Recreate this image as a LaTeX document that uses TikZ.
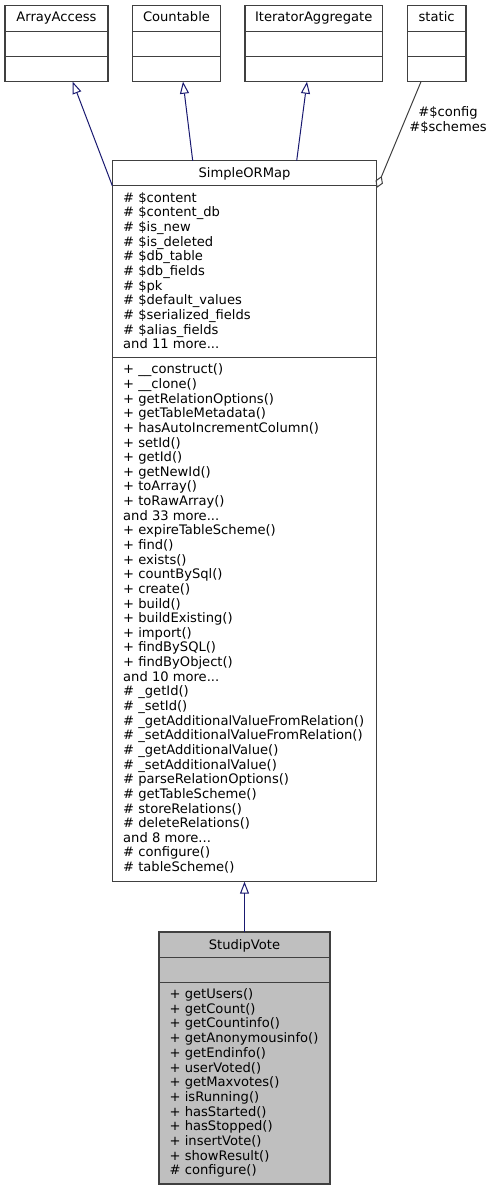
\documentclass[tikz,border=0pt]{standalone}
\usepackage{fontspec}
\setmainfont{DejaVu Sans}
\usetikzlibrary{arrows.meta,calc}
\definecolor{edgeblue}{HTML}{191970}
\definecolor{boxline}{HTML}{404040}
\definecolor{votefill}{HTML}{BFBFBF}
\newcommand\mydots{...}
\begin{document}
\begin{tikzpicture}[x=1pt,y=-1pt,
  every node/.style={font=\fontsize{13.1}{14.65}\selectfont},
  umlbox/.style={draw=boxline,line width=1.2pt,fill=white,rectangle,anchor=north west,inner sep=0pt,outer sep=0pt},
  divider/.style={draw=boxline,line width=1.2pt},
  title/.style={anchor=base,inner sep=0pt},
  member/.style={anchor=base west,inner sep=0pt},
  inherit/.style={draw=edgeblue,line width=1pt,-{Triangle[open,length=12pt,width=9pt]}},
  aggreg/.style={draw=boxline,line width=1pt,-{Diamond[open,length=13pt,width=8pt]}}
]
\useasboundingbox (0,0) rectangle (491,1191);

% ---------- top interface boxes ----------
\node[umlbox,minimum width=103pt,minimum height=76pt] (aa) at (5,5.7) {};
\node[umlbox,minimum width=87.6pt,minimum height=76pt] (cnt) at (132.7,5.7) {};
\node[umlbox,minimum width=137.3pt,minimum height=76pt] (ia) at (245,5.7) {};
\node[umlbox,minimum width=58.7pt,minimum height=76pt] (st) at (407.3,5.7) {};
\foreach \b in {aa,cnt,ia,st}{
  \draw[divider] ($(\b.north west)+(0,25.6)$) -- ($(\b.north east)+(0,25.6)$);
  \draw[divider] ($(\b.north west)+(0,51)$) -- ($(\b.north east)+(0,51)$);
}
\node[title] (aat) at ($(aa.north)+(0,16.1)$) {ArrayAccess};
\node[title] (cntt) at ($(cnt.north)+(0,16.1)$) {Countable};
\node[title] (iat) at ($(ia.north)+(0,16.1)$) {IteratorAggregate};
\node[title] (stt) at ($(st.north)+(0,16.1)$) {static};

% ---------- SimpleORMap ----------
\node[umlbox,minimum width=264.4pt,minimum height=721pt] (sm) at (112.3,160.7) {};
\draw[divider] ($(sm.north west)+(0,25)$) -- ($(sm.north east)+(0,25)$);
\draw[divider] ($(sm.north west)+(0,196.6)$) -- ($(sm.north east)+(0,196.6)$);
\node[title] (smt) at (244.5,177.2) {SimpleORMap};
\foreach \t [count=\i from 0] in {
  {\# \$content},{\# \$content\_db},{\# \$is\_new},{\# \$is\_deleted},
  {\# \$db\_table},{\# \$db\_fields},{\# \$pk},{\# \$default\_values},
  {\# \$serialized\_fields},{\# \$alias\_fields},{and 11 more\mydots}}{
  \node[member] (sma\i) at (123,202.2+14.66*\i) {\t};
}
\foreach \t [count=\i from 0] in {
  {+ \_\_construct()},{+ \_\_clone()},{+ getRelationOptions()},{+ getTableMetadata()},
  {+ hasAutoIncrementColumn()},{+ setId()},{+ getId()},{+ getNewId()},
  {+ toArray()},{+ toRawArray()},{and 33 more\mydots},
  {+ expireTableScheme()},{+ find()},{+ exists()},{+ countBySql()},
  {+ create()},{+ build()},{+ buildExisting()},{+ import()},
  {+ findBySQL()},{+ findByObject()},{and 10 more\mydots},
  {\# \_getId()},{\# \_setId()},{\# \_getAdditionalValueFromRelation()},
  {\# \_setAdditionalValueFromRelation()},{\# \_getAdditionalValue()},
  {\# \_setAdditionalValue()},{\# parseRelationOptions()},{\# getTableScheme()},
  {\# storeRelations()},{\# deleteRelations()},{and 8 more\mydots},
  {\# configure()},{\# tableScheme()}}{
  \node[member] (smm\i) at (123,373.8+14.64*\i) {\t};
}

% ---------- StudipVote ----------
\node[umlbox,fill=votefill,minimum width=171pt,minimum height=252pt] (sv) at (159,932) {};
\draw[divider] ($(sv.north west)+(0,25.7)$) -- ($(sv.north east)+(0,25.7)$);
\draw[divider] ($(sv.north west)+(0,50.7)$) -- ($(sv.north east)+(0,50.7)$);
\node[title] (svt) at (244.5,949.5) {StudipVote};
\foreach \t [count=\i from 0] in {
  {+ getUsers()},{+ getCount()},{+ getCountinfo()},{+ getAnonymousinfo()},
  {+ getEndinfo()},{+ userVoted()},{+ getMaxvotes()},{+ isRunning()},
  {+ hasStarted()},{+ hasStopped()},{+ insertVote()},{+ showResult()},
  {\# configure()}}{
  \node[member] (svm\i) at (169.5,998.5+14.7*\i) {\t};
}

% ---------- connectors ----------
\coordinate (aaEnd) at (72.7,81.7);
\coordinate (smA) at (112.3,185.7);
\coordinate (cntEnd) at (183,81.7);
\coordinate (smC) at (192.7,160.7);
\coordinate (iaEnd) at (307,81.7);
\coordinate (smI) at (296.7,160.7);
\coordinate (stStart) at (421,81.7);
\coordinate (smS) at (376.7,188);

\draw[inherit] (smA) -- (aaEnd);
\draw[inherit] (smC) -- (cntEnd);
\draw[inherit] (smI) -- (iaEnd);
\draw[aggreg] (stStart) -- (smS);
\node[align=center,inner sep=0pt] (stlab) at (448,120.3) {\#\$config\\\#\$schemes};
\draw[inherit] (sv.north) -- (sm.south);
\end{tikzpicture}
\end{document}
